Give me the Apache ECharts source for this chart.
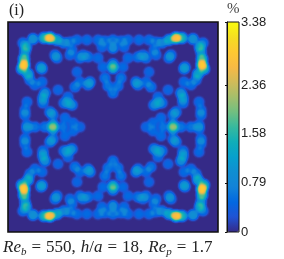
<!DOCTYPE html>
<html><head><meta charset="utf-8">
<style>html,body{margin:0;padding:0;background:#fff}#c{width:284px;height:259px}</style>
<script src="https://cdn.jsdelivr.net/npm/echarts@6/dist/echarts.min.js"></script>
</head><body><div id="c"></div>
<script>
// Concentration blobs read from the top-left quadrant (domain 0..210 across, 0 at top-left); field has mirror symmetry
const blobX = [42,36,49,56,25,18,15,16,16,20,17,22,14,34,33,47,49,62,69,79,90,97,105,105,94,64,62,72,80,75,90,95,105,105,97,100,105,69,82,80,72,67,60,60,64,56,50,27,34,37,35,35,19,17,17,19,42,45,57,65,45,45,27,37,55,72];
const blobY = [16,16,18,21,17,25,21,43,37,52,30,58,47,47,45,33,36,20,18,18,18,19,18,26,25,28,33,36,35,33,36,45,46,42,56,64,71,50,60,63,60,65,75,81,83,81,68,63,60,71,76,81,80,93,88,103,90,93,96,101,102,105,105,105,105,105];
const blobV = [2.7,1.5,1.2,0.7,1.0,1.2,0.6,2.7,1.7,1.2,0.8,0.6,1.4,0.7,0.6,0.6,0.6,0.52,0.52,0.52,0.52,0.52,0.6,0.85,0.5,0.5,0.5,0.6,0.6,0.5,0.5,0.5,1.5,0.8,0.6,0.6,0.6,0.45,0.7,0.6,0.5,0.6,0.5,0.6,0.75,0.6,0.45,0.5,0.5,0.85,0.8,0.6,0.5,0.6,0.5,0.6,0.7,0.6,0.5,0.5,0.7,1.5,0.6,0.6,0.6,0.45];
const tickValues = [0,0.79,1.58,2.36,3.38];
const parula = ['#352A87','#2053D4','#0268E1','#1283D8','#108ED2','#06A0CD','#0FAEB9','#37B99E','#71BF80','#A5BE6B','#D1BB59','#F8BA44','#FEC832','#F5DE21','#F9FB0E'];

const W = 210;
const data = [];
blobX.forEach((x,i)=>{
  const y = blobY[i], v = blobV[i];
  const xs = x===105 ? [x] : [x,W-x];
  const ys = y===105 ? [y] : [y,W-y];
  xs.forEach(px=>ys.forEach(py=>data.push([px,W-py,v])));
});
echarts.registerMap('box',{type:'FeatureCollection',features:[{type:'Feature',properties:{name:'box'},
  geometry:{type:'Polygon',coordinates:[[[0,0],[W,0],[W,W],[0,W],[0,0]]]}}]});
const serif = '"Liberation Serif","DejaVu Serif",serif';
const chart = echarts.init(document.getElementById('c'),null,{renderer:'canvas'});
chart.setOption({
  animation:false,
  backgroundColor:'#fff',
  geo:{map:'box',left:8,top:22,width:210,height:210,aspectScale:1,roam:false,silent:true,
    itemStyle:{areaColor:'#352A87',borderWidth:0},label:{show:false},emphasis:{disabled:true}},
  visualMap:{type:'continuous',min:0,max:3.38,seriesIndex:0,left:227,top:22,itemWidth:12,itemHeight:210,
    padding:0,text:null,calculable:false,hoverLink:false,showLabel:false,inRange:{color:parula}},
  grid:{left:227,top:22,width:12,height:210,show:true,z:10,borderColor:'#111',borderWidth:1,backgroundColor:'transparent',outerBoundsMode:'none'},
  xAxis:{type:'value',show:false,min:0,max:1},
  yAxis:{type:'value',position:'right',min:0,max:3.38,z:10,splitLine:{show:false},
    axisLine:{show:true,lineStyle:{color:'#111',width:1}},
    axisTick:{show:true,inside:true,length:2,customValues:tickValues,lineStyle:{color:'#111'}},
    axisLabel:{show:true,margin:2,fontFamily:'"Liberation Sans",Arial,sans-serif',fontSize:13,color:'#222',customValues:tickValues,
      formatter:v=>String(v)},
    name:'\u03D5',nameLocation:'middle',nameGap:36,nameRotate:-90,nameTextStyle:{fontFamily:serif,fontStyle:'italic',fontSize:12,color:'#666',padding:[0,0,10,0]}},
  series:[{type:'heatmap',coordinateSystem:'geo',data:data,pointSize:5,blurSize:3,minOpacity:1,maxOpacity:1,silent:true}],
  title:[
    {text:'(i)',left:9,top:3,padding:0,textStyle:{fontFamily:serif,fontWeight:'normal',fontSize:16,color:'#222'}},
    {text:'%',left:227,top:2,padding:0,textStyle:{fontFamily:serif,fontWeight:'normal',fontSize:15,color:'#444'}},
    {text:'{i|Re}{s|b}{g| }{n|=}{g| }{n|550,}{g| }{i|h}{n|/}{i|a}{g| }{n|=}{g| }{n|18,}{g| }{i|Re}{s|p}{g| }{n|=}{g| }{n|1.7}',left:3,top:238,padding:0,
      textStyle:{fontFamily:serif,fontWeight:'normal',fontSize:17,color:'#222',
        rich:{i:{fontFamily:serif,fontStyle:'italic',fontSize:17,color:'#222'},
              n:{fontFamily:serif,fontSize:17,color:'#222'},
              g:{fontFamily:serif,fontSize:20,color:'#222'},
              s:{fontFamily:serif,fontStyle:'italic',fontSize:11,color:'#222',verticalAlign:'bottom',padding:[6,0,0,0]}}}}
  ],
  graphic:[{type:'rect',z:20,silent:true,shape:{x:8,y:22,width:210,height:210},style:{fill:null,stroke:'#111',lineWidth:1.6}}]
});
</script></body></html>
